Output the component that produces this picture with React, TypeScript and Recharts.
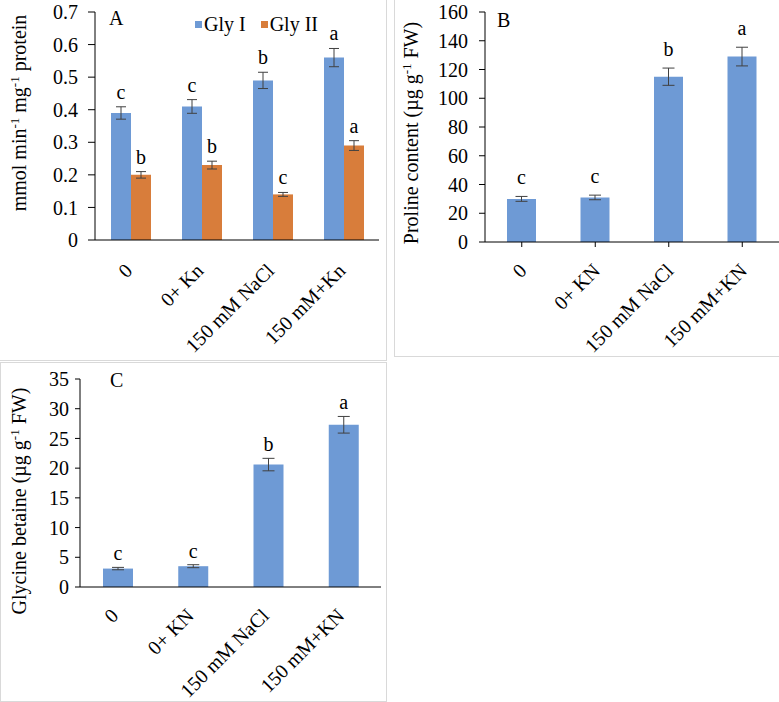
import React from "react";
import { BarChart, Bar, XAxis, YAxis, ErrorBar, LabelList, Legend } from "recharts";

// Panel A: glyoxalase activity
const treatmentsA = ["0", "0+ Kn", "150 mM NaCl", "150 mM+Kn"];
const glyI = [0.39, 0.41, 0.49, 0.56];
const glyIErr = [0.019, 0.021, 0.025, 0.028];
const glyILetters = ["c", "c", "b", "a"];
const glyII = [0.2, 0.23, 0.14, 0.29];
const glyIIErr = [0.01, 0.012, 0.006, 0.015];
const glyIILetters = ["b", "b", "c", "a"];
const ticksA = [0, 0.1, 0.2, 0.3, 0.4, 0.5, 0.6, 0.7];

// Panel B: proline
const treatmentsBC = ["0", "0+ KN", "150 mM NaCl", "150 mM+KN"];
const proline = [30, 31, 115, 129];
const prolineErr = [1.7, 1.6, 6, 6.5];
const prolineLetters = ["c", "c", "b", "a"];
const ticksB = [0, 20, 40, 60, 80, 100, 120, 140, 160];

// Panel C: glycine betaine
const betaine = [3.1, 3.5, 20.6, 27.3];
const betaineErr = [0.2, 0.25, 1.05, 1.4];
const betaineLetters = ["c", "c", "b", "a"];
const ticksC = [0, 5, 10, 15, 20, 25, 30, 35];

const BLUE = "#6E9AD5";
const ORANGE = "#D87D3B";
const ERR = "#404040";
const FONT = '"Liberation Serif", "Times New Roman", serif';

const dataA = treatmentsA.map((t, i) => ({
  name: t,
  glyI: glyI[i],
  glyIErr: glyIErr[i],
  glyIL: glyILetters[i],
  glyII: glyII[i],
  glyIIErr: glyIIErr[i],
  glyIIL: glyIILetters[i],
}));
const dataB = treatmentsBC.map((t, i) => ({
  name: t,
  v: proline[i],
  err: prolineErr[i],
  l: prolineLetters[i],
}));
const dataC = treatmentsBC.map((t, i) => ({
  name: t,
  v: betaine[i],
  err: betaineErr[i],
  l: betaineLetters[i],
}));

function SlantTick(props: any) {
  const { x, y, payload, dx = 5, dy = 26 } = props;
  const ax = x + dx;
  const ay = y + dy;
  return (
    <text
      x={ax}
      y={ay}
      transform={`rotate(-45 ${ax} ${ay})`}
      textAnchor="end"
      fontFamily={FONT}
      fontSize={20}
      fill="#000"
    >
      {payload.value}
    </text>
  );
}

// letter sits above the error bar cap; px/unit taken from the bar itself
const letterLabel = (errs: number[], vals: number[], gap: number) => (p: any) => {
  const { x, y, width, height, index, value } = p;
  const pxPer = height / vals[index];
  const top = y - errs[index] * pxPer;
  return (
    <text
      x={x + width / 2}
      y={top - gap}
      textAnchor="middle"
      fontFamily={FONT}
      fontSize={20}
      fill="#000"
    >
      {value}
    </text>
  );
};

const yLabel = (x: number, y: number, parts: [string, boolean][]) => () => (
  <text
    x={x}
    y={y}
    transform={`rotate(-90 ${x} ${y})`}
    textAnchor="middle"
    fontFamily={FONT}
    fontSize={20}
    fill="#000"
  >
    {parts.map(([s, sup], i) =>
      sup ? (
        <tspan key={i} dy={-7} fontSize={13}>
          {s}
        </tspan>
      ) : (
        <tspan key={i} dy={i > 0 && parts[i - 1][1] ? 7 : 0}>
          {s}
        </tspan>
      )
    )}
  </text>
);

const tickStyle = { fill: "#000", fontSize: 20, fontFamily: FONT };
const border = "1px solid #d9d9d9";

export default function App() {
  return (
    <div
      style={{
        position: "absolute",
        left: 0,
        top: 0,
        width: 779,
        height: 702,
        background: "#fff",
        overflow: "hidden",
      }}
    >
      <div style={{ position: "absolute", left: 0, top: 0, width: 387, height: 361, borderRight: border, borderBottom: border, boxSizing: "border-box" }} />
      <div style={{ position: "absolute", left: 394, top: 0, width: 385, height: 357, borderLeft: border, borderBottom: border, boxSizing: "border-box" }} />
      <div style={{ position: "absolute", left: 0, top: 362, width: 387, height: 340, border: border, boxSizing: "border-box" }} />

      {/* A */}
      <div style={{ position: "absolute", left: 0, top: 0 }}>
        <BarChart
          width={387}
          height={360}
          data={dataA}
          margin={{ top: 12, right: 8, left: 35, bottom: 0 }}
          barGap={0}
        >
          <XAxis
            dataKey="name"
            height={120}
            tick={<SlantTick dx={3} dy={27} />}
            tickLine={false}
            tickSize={5}
            tickMargin={0}
            interval={0}
            axisLine={{ stroke: "#000" }}
          />
          <YAxis
            width={60}
            domain={[0, 0.7]}
            ticks={ticksA}
            tickFormatter={(v: number) => (v === 0 ? "0" : v.toFixed(1))}
            tick={tickStyle}
            tickSize={7}
            tickMargin={10}
            axisLine={{ stroke: "#000" }}
            tickLine={{ stroke: "#000" }}
            label={{
              content: yLabel(26, 113, [
                ["mmol min", false],
                ["-1", true],
                [" mg", false],
                ["-1", true],
                [" protein", false],
              ]),
            }}
          />
          <Legend
            layout="vertical"
            verticalAlign="middle"
            align="center"
            wrapperStyle={{ position: "absolute", left: 195, top: 14, width: 180 }}
            content={(p: any) => (
              <div style={{ display: "flex", alignItems: "center", fontFamily: FONT, fontSize: 20, lineHeight: "20px" }}>
                {(p.payload || []).map((e: any, i: number) => (
                  <span key={i} style={{ display: "flex", alignItems: "center", marginRight: 15 }}>
                    <span style={{ display: "inline-block", width: 7, height: 7, background: e.color, marginRight: 2 }} />
                    {e.value}
                  </span>
                ))}
              </div>
            )}
          />
          <Bar dataKey="glyI" name="Gly I" fill={BLUE} barSize={20} isAnimationActive={false}>
            <ErrorBar dataKey="glyIErr" width={5} stroke={ERR} strokeWidth={1} direction="y" />
            <LabelList dataKey="glyIL" content={letterLabel(glyIErr, glyI, 8)} />
          </Bar>
          <Bar dataKey="glyII" name="Gly II" fill={ORANGE} barSize={20} isAnimationActive={false}>
            <ErrorBar dataKey="glyIIErr" width={5} stroke={ERR} strokeWidth={1} direction="y" />
            <LabelList dataKey="glyIIL" content={letterLabel(glyIIErr, glyII, 8)} />
          </Bar>
        </BarChart>
      </div>

      {/* B */}
      <div style={{ position: "absolute", left: 390, top: 0 }}>
        <BarChart
          width={389}
          height={358}
          data={dataB}
          margin={{ top: 12, right: 0, left: 35, bottom: 0 }}
        >
          <XAxis
            dataKey="name"
            height={116}
            tick={<SlantTick dx={6} dy={25} />}
            tickSize={5}
            tickMargin={0}
            interval={0}
            axisLine={{ stroke: "#000" }}
            tickLine={{ stroke: "#000" }}
          />
          <YAxis
            width={60}
            domain={[0, 160]}
            ticks={ticksB}
            tick={tickStyle}
            tickSize={6}
            tickMargin={11}
            axisLine={{ stroke: "#000" }}
            tickLine={{ stroke: "#000" }}
            label={{
              content: yLabel(28, 133, [
                ["Proline content (\u00b5g g", false],
                ["-1", true],
                [" FW)", false],
              ]),
            }}
          />
          <Bar dataKey="v" fill={BLUE} barSize={29} isAnimationActive={false}>
            <ErrorBar dataKey="err" width={6} stroke={ERR} strokeWidth={1} direction="y" />
            <LabelList dataKey="l" content={letterLabel(prolineErr, proline, 12)} />
          </Bar>
        </BarChart>
      </div>

      {/* C */}
      <div style={{ position: "absolute", left: 0, top: 360 }}>
        <BarChart
          width={387}
          height={342}
          data={dataC}
          margin={{ top: 19, right: 6, left: 20, bottom: 0 }}
        >
          <XAxis
            dataKey="name"
            height={115}
            tick={<SlantTick dx={2} dy={25} />}
            tickLine={false}
            tickSize={5}
            tickMargin={0}
            interval={0}
            axisLine={{ stroke: "#000" }}
          />
          <YAxis
            width={60}
            domain={[0, 35]}
            ticks={ticksC}
            tick={tickStyle}
            tickSize={5}
            tickMargin={6}
            axisLine={{ stroke: "#000" }}
            tickLine={{ stroke: "#000" }}
            label={{
              content: yLabel(26, 141, [
                ["Glycine betaine (\u00b5g g", false],
                ["-1", true],
                [" FW)", false],
              ]),
            }}
          />
          <Bar dataKey="v" fill={BLUE} barSize={30} isAnimationActive={false}>
            <ErrorBar dataKey="err" width={6} stroke={ERR} strokeWidth={1} direction="y" />
            <LabelList dataKey="l" content={letterLabel(betaineErr, betaine, 7)} />
          </Bar>
        </BarChart>
      </div>

      <svg width={779} height={702} style={{ position: "absolute", left: 0, top: 0, pointerEvents: "none" }}>
        <text x={109} y={25} fontFamily={FONT} fontSize={20} fill="#000">A</text>
        <text x={497} y={27} fontFamily={FONT} fontSize={20} fill="#000">B</text>
        <text x={110} y={387} fontFamily={FONT} fontSize={20} fill="#000">C</text>
      </svg>
    </div>
  );
}
